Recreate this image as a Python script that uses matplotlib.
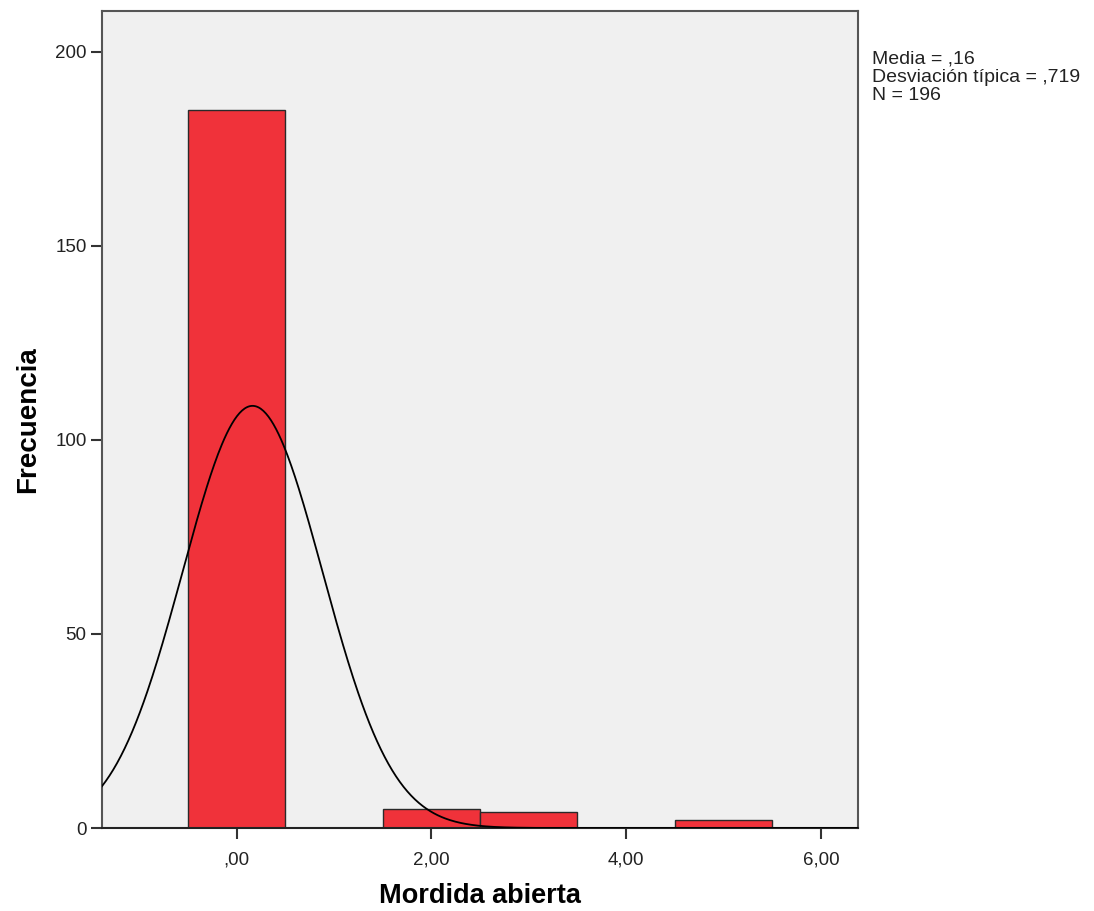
import numpy as np
import matplotlib
matplotlib.use("Agg")
import matplotlib.pyplot as plt

plt.rcParams['font.family'] = ['Liberation Sans', 'DejaVu Sans']

# Data
bin_centers = [0, 2, 3, 5]
counts = [185, 5, 4, 2]
bin_width = 1.0
x_ticks = [0, 2, 4, 6]
x_tick_labels = [",00", "2,00", "4,00", "6,00"]
y_ticks = [0, 50, 100, 150, 200]
y_tick_labels = ["0", "50", "100", "150", "200"]
stats_text = "Media = ,16\nDesviación típica = ,719\nN = 196"
x_label = "Mordida abierta"
y_label = "Frecuencia"

vals = np.repeat(bin_centers, counts)
n = len(vals)
mean = vals.mean()
sd = vals.std(ddof=1)

fig = plt.figure(figsize=(10.94, 9.11), dpi=100)
ax = fig.add_axes([0.0932, 0.0911, 0.691, 0.8968])
ax.set_facecolor('#F0F0F0')

ax.bar(bin_centers, counts, width=bin_width, color='#F0323A', edgecolor='#2a2a2a',
       linewidth=1.0, zorder=2)

xs = np.linspace(-1.383, 6.38, 600)
pdf = n * bin_width / (sd * np.sqrt(2 * np.pi)) * np.exp(-0.5 * ((xs - mean) / sd) ** 2)
ax.plot(xs, pdf, color='black', linewidth=1.3, zorder=3)

ax.set_xlim(-1.383, 6.38)
ax.set_ylim(0, 210.5)
ax.set_xticks(x_ticks)
ax.set_xticklabels(x_tick_labels)
ax.set_yticks(y_ticks)
ax.set_yticklabels(y_tick_labels)
ax.tick_params(axis='both', labelsize=13.5, length=8, width=1.5, color='#333333',
               labelcolor='#222222')
ax.tick_params(axis='x', pad=9)
ax.tick_params(axis='y', pad=3)

for s in ['left', 'top', 'right', 'bottom']:
    ax.spines[s].set_color('#555555')
    ax.spines[s].set_linewidth(1.5)
ax.spines['bottom'].set_color('#222222')

ax.set_xlabel(x_label, fontsize=19.5, fontweight='bold', labelpad=10)
ax.set_ylabel(y_label, fontsize=20, fontweight='bold', labelpad=10)

fig.text(872 / 1094, 1 - 50 / 911, stats_text, fontsize=14, va='top', ha='left',
         color='#222222', linespacing=1.12)

fig.savefig('out.png', dpi=100, facecolor='white')
